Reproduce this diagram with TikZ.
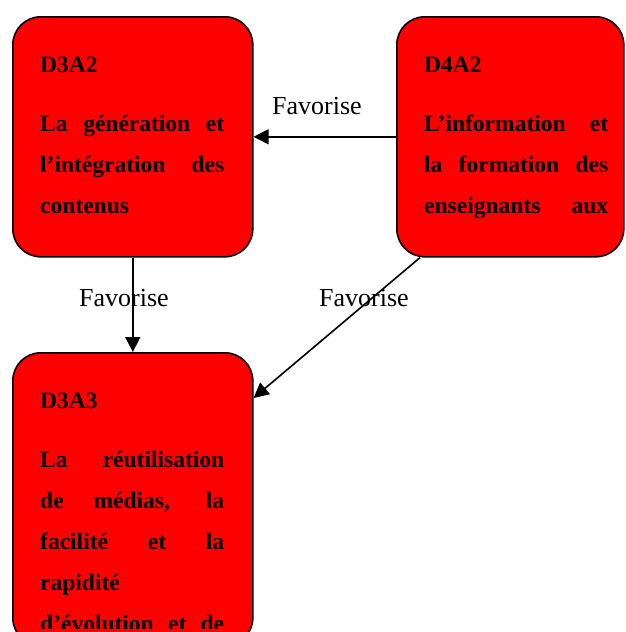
\documentclass[tikz,border=0pt]{standalone}
\usepackage{fontspec}
\setmainfont{Liberation Serif}
\usetikzlibrary{arrows.meta,calc}
\newcommand{\jl}[1]{\makebox[184pt][s]{#1}}
\begin{document}
\begin{tikzpicture}[x=1pt,y=-1pt,
  box/.style={draw=black, line width=1.6pt, fill=red, rounded corners=28pt, inner sep=0pt, anchor=north west},
  txt/.style={anchor=base west, inner sep=0pt, font=\fontsize{23.5}{28}\selectfont\bfseries},
  lab/.style={anchor=base west, inner sep=0pt, font=\fontsize{26}{30}\selectfont},
  arr/.style={-{Triangle[length=15pt,width=15pt]}, line width=1.6pt}]
\useasboundingbox (0,0) rectangle (625,632);
\clip (0,0) rectangle (625,632);
\node[box, minimum width=240pt, minimum height=240pt] (d3a2) at (12,16) {};
\node[box, minimum width=227pt, minimum height=240pt] (d4a2) at (396,16) {};
\node[box, minimum width=240pt, minimum height=293pt] (d3a3) at (12,352) {};
% D3A2
\node[txt] (h1) at (40,72) {D3A2};
\node[txt] (a1) at (40,131) {\jl{La génération et}};
\node[txt] (a2) at (40,172) {\jl{l’intégration des}};
\node[txt] (a3) at (40,213) {contenus};
% D4A2
\node[txt] (h2) at (424,72) {D4A2};
\node[txt] (b1) at (424,131) {\jl{L’information et}};
\node[txt] (b2) at (424,172) {\jl{la formation des}};
\node[txt] (b3) at (424,213) {\jl{enseignants aux}};
% D3A3
\node[txt] (h3) at (40,408) {D3A3};
\node[txt] (c1) at (40,467) {\jl{La réutilisation}};
\node[txt] (c2) at (40,508) {\jl{de médias, la}};
\node[txt] (c3) at (40,549) {\jl{facilité et la}};
\node[txt] (c4) at (40,590) {rapidité};
\begin{scope}
\clip (0,0) rectangle (625,628);
\node[txt] (c5) at (40,631) {\jl{d’évolution et de}};
\end{scope}
% labels
\node[lab] (f1) at (272,114) {Favorise};
\node[lab] (f2) at (79,306) {Favorise};
\node[lab] (f3) at (319,306) {Favorise};
% connectors
\draw[arr] (d4a2.west) -- (d3a2.east);
\draw[arr] (d3a2.south) -- (d3a3.north);
\draw[arr] ([xshift=24pt]d4a2.south west) -- ([yshift=-46pt]d3a3.north east);
\end{tikzpicture}
\end{document}
